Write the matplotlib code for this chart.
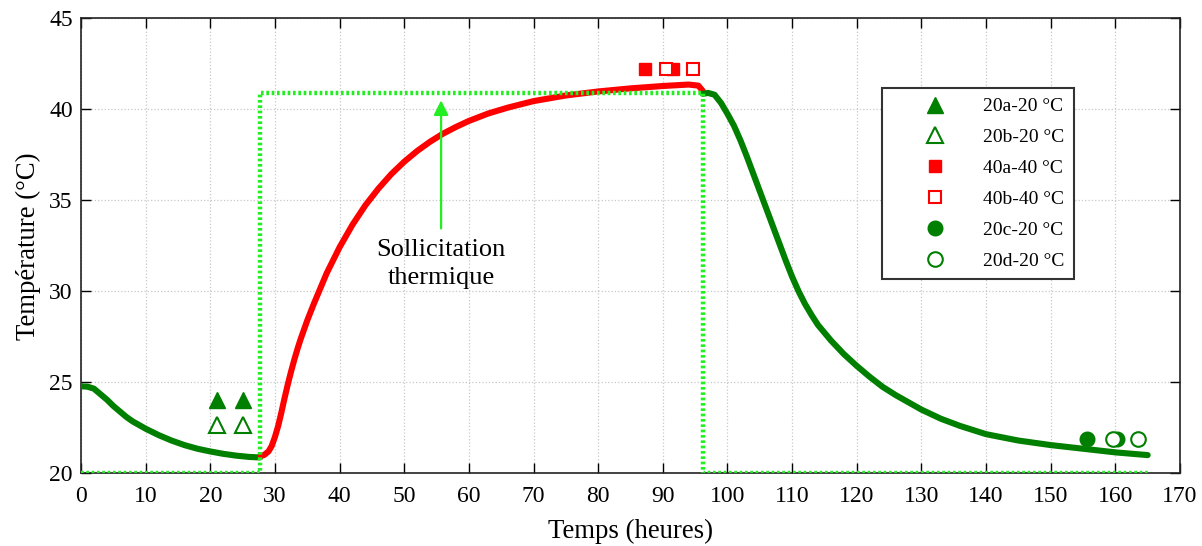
import numpy as np
import matplotlib
matplotlib.use('Agg')
import matplotlib.pyplot as plt
from matplotlib.lines import Line2D

# measured temperature, three phases (hours, deg C)
t_before = [0, 1, 2, 3, 4, 5, 6, 7, 8, 9, 10, 12, 14, 16, 18, 20, 22, 24, 26, 27.7]
T_before = [24.78, 24.76, 24.65, 24.35, 24.05, 23.7, 23.4, 23.1, 22.85, 22.65,
            22.45, 22.1, 21.8, 21.55, 21.35, 21.2, 21.07, 20.97, 20.9, 20.87]

t_heat = [27.7, 28.3, 29, 29.5, 30, 30.5, 31, 31.5, 32, 32.5, 33, 33.5, 34, 35,
          36, 38, 40, 42, 44, 46, 48, 50, 52, 54, 56, 58, 60, 63, 66, 70, 75,
          80, 85, 90, 94, 95.5, 96.2]
T_heat = [20.95, 21.0, 21.2, 21.5, 22.0, 22.6, 23.35, 24.15, 24.9, 25.6, 26.25,
          26.85, 27.4, 28.4, 29.3, 30.99, 32.42, 33.66, 34.73, 35.64, 36.44,
          37.12, 37.71, 38.22, 38.66, 39.03, 39.36, 39.77, 40.09, 40.45, 40.76,
          40.98, 41.15, 41.28, 41.36, 41.3, 41.0]

t_after = [96.2, 97, 98, 99, 100, 101, 102, 103, 104, 105, 106, 107, 108, 109,
           110, 111, 112, 113, 114, 116, 118, 120, 122, 124, 126, 128, 130, 133,
           136, 140, 145, 150, 155, 160, 165]
T_after = [40.85, 40.9, 40.8, 40.35, 39.75, 39.1, 38.3, 37.4, 36.45, 35.5, 34.55,
           33.6, 32.65, 31.7, 30.8, 30.0, 29.3, 28.7, 28.15, 27.3, 26.55, 25.9,
           25.3, 24.75, 24.3, 23.9, 23.5, 23.0, 22.6, 22.15, 21.8, 21.55, 21.35,
           21.15, 21.0]

# imposed thermal load
step_t = [0, 27.7, 27.7, 96.2, 96.2, 165]
step_T = [20, 20, 40.9, 40.9, 20, 20]

# point measurements
tri_a_t, tri_a_T = [21, 25.1], [24.05, 24.05]
tri_b_t, tri_b_T = [21, 25.1], [22.65, 22.65]
sq_a_t, sq_a_T = [87.2, 91.6], [42.2, 42.2]
sq_b_t, sq_b_T = [90.5, 94.7], [42.2, 42.2]
circ_c_t, circ_c_T = [155.6, 160.3], [21.9, 21.9]
circ_d_t, circ_d_T = [159.6, 163.5], [21.9, 21.9]

labels = ['20a-20 °C', '20b-20 °C', '40a-40 °C', '40b-40 °C', '20c-20 °C', '20d-20 °C']

plt.rcParams['font.family'] = ['Liberation Serif', 'DejaVu Serif']

dgreen = '#007f00'
lime = '#22ee22'

fig = plt.figure(figsize=(12.02, 5.46), dpi=100)
ax = fig.add_axes([81 / 1202, 72.7 / 546, 1099 / 1202, 455 / 546])

for tt, TT, c in [(t_before, T_before, dgreen), (t_heat, T_heat, 'red'),
                  (t_after, T_after, dgreen)]:
    ax.plot(tt, TT, color=c, lw=4.4, solid_capstyle='round',
            solid_joinstyle='round', zorder=3)
ax.plot(step_t, step_T, color=lime, lw=3.2, ls=(0, (0.6, 0.6)), zorder=4)

ax.plot(tri_a_t, tri_a_T, '^', ms=11, color=dgreen, ls='none', zorder=5)
ax.plot(tri_b_t, tri_b_T, '^', ms=11, mfc='white', mec=dgreen, mew=1.5, ls='none', zorder=5)
ax.plot(sq_a_t, sq_a_T, 's', ms=9, color='red', ls='none', zorder=5)
ax.plot(sq_b_t, sq_b_T, 's', ms=9, mfc='white', mec='red', mew=1.5, ls='none', zorder=6)
ax.plot(circ_c_t, circ_c_T, 'o', ms=10.5, color=dgreen, ls='none', zorder=5)
ax.plot(circ_d_t, circ_d_T, 'o', ms=10.5, mfc='white', mec=dgreen, mew=1.5, ls='none', zorder=6)

ax.annotate('', xy=(55.7, 40.65), xytext=(55.7, 33.3),
            arrowprops=dict(arrowstyle='-|>', color=lime, lw=1.6, mutation_scale=22))
ax.text(55.7, 31.5, 'Sollicitation\nthermique', ha='center', va='center',
        fontsize=19, linespacing=1.35)

ax.set_xlim(0, 170)
ax.set_ylim(20, 45)
ax.set_xticks(np.arange(0, 171, 10))
ax.set_yticks(np.arange(20, 46, 5))
ax.grid(True, color='#c8c8c8', ls=':', lw=0.9)
ax.tick_params(direction='in', top=True, right=True, length=7, width=1,
               labelsize=17)
ax.tick_params(axis='x', pad=9.5)
ax.tick_params(axis='y', pad=6)
for s in ax.spines.values():
    s.set_linewidth(1.2)
    s.set_color('#222222')
ax.set_xlabel('Temps (heures)', fontsize=19.3, labelpad=8)
ax.set_ylabel('Température (°C)', fontsize=19.3, labelpad=6)

handles = [
    Line2D([], [], marker='^', ms=11, color=dgreen, ls='none'),
    Line2D([], [], marker='^', ms=11, mfc='white', mec=dgreen, mew=1.5, ls='none'),
    Line2D([], [], marker='s', ms=9, color='red', ls='none'),
    Line2D([], [], marker='s', ms=9, mfc='white', mec='red', mew=1.5, ls='none'),
    Line2D([], [], marker='o', ms=10.5, color=dgreen, ls='none'),
    Line2D([], [], marker='o', ms=10.5, mfc='white', mec=dgreen, mew=1.5, ls='none'),
]
leg = ax.legend(handles, labels, loc='upper left',
                bbox_to_anchor=(882 / 1202, 1 - 88 / 546), bbox_transform=fig.transFigure,
                fontsize=14, frameon=True, fancybox=False, framealpha=1,
                borderpad=0.5, handlelength=4.5, handletextpad=0.2,
                labelspacing=0.68, borderaxespad=0)
leg.get_frame().set_edgecolor('#333333')
leg.get_frame().set_linewidth(1.5)

fig.savefig('out.png', dpi=100)
